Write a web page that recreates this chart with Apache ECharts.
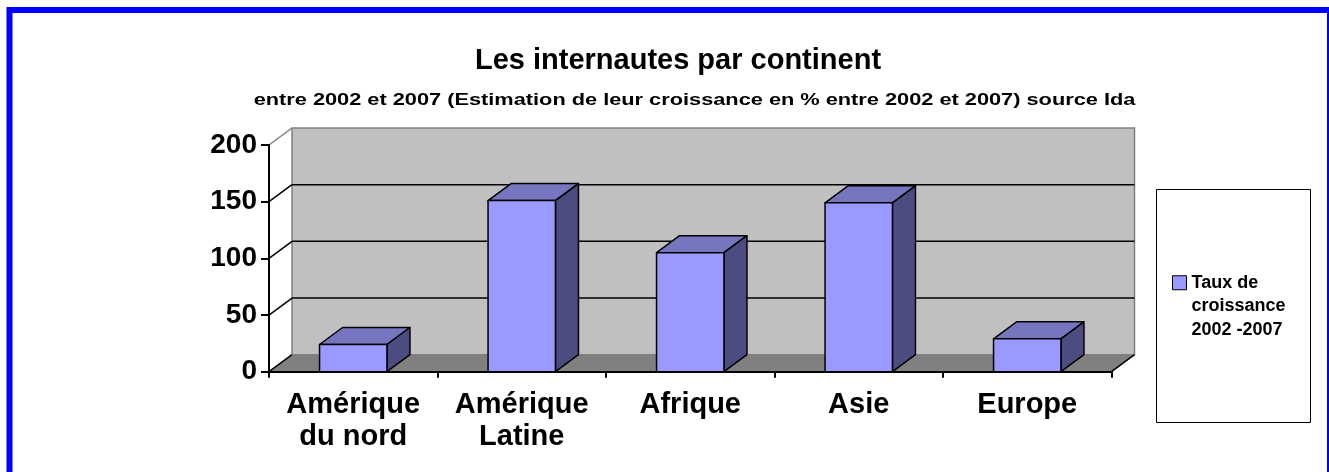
<!DOCTYPE html>
<html>
<head>
<meta charset="utf-8">
<script src="https://cdn.jsdelivr.net/npm/echarts@6/dist/echarts.min.js"></script>
<style>
  html, body { margin: 0; padding: 0; background: #fff; }
  #chart { width: 1329px; height: 472px; }
</style>
</head>
<body>
<div id="chart"></div>
<script>
  // données
  var categories = ['Amérique\ndu nord', 'Amérique\nLatine', 'Afrique', 'Asie', 'Europe'];
  var croissance = [24, 151, 105, 149, 29];
  var yTicks = [0, 50, 100, 150, 200];
  var serieName = 'Taux de croissance 2002 -2007';

  var DX = 23, DY = 17; // profondeur de la perspective
  var font = 'Arial, "Liberation Sans", sans-serif';

  var myEchart = echarts.init(document.getElementById('chart'));

  // murs du fond + sol
  function renderWalls(params, api) {
    var cs = params.coordSys;
    var L = cs.x, R = cs.x + cs.width, T = cs.y, B = cs.y + cs.height;
    var children = [];
    children.push({
      type: 'polygon',
      shape: { points: [[L + DX, T - DY], [R + DX, T - DY], [R + DX, B - DY], [L + DX, B - DY]] },
      style: { fill: '#c0c0c0', stroke: '#808080', lineWidth: 1.5 }
    });
    children.push({
      type: 'polygon',
      shape: { points: [[L, B], [R, B], [R + DX, B - DY], [L + DX, B - DY]] },
      style: { fill: '#808080', stroke: null }
    });
    yTicks.forEach(function (v) {
      var y = api.coord([0, v])[1];
      var isTop = v === yTicks[yTicks.length - 1];
      if (v !== 0 && !isTop) {
        children.push({
          type: 'line',
          shape: { x1: L + DX, y1: y - DY, x2: R + DX, y2: y - DY },
          style: { stroke: '#000', lineWidth: 1.5 }
        });
      }
      children.push({
        type: 'line',
        shape: { x1: L, y1: y, x2: L + DX, y2: y - DY },
        style: { stroke: isTop ? '#808080' : '#000', lineWidth: 1.5 }
      });
    });
    children.push({
      type: 'line',
      shape: { x1: R, y1: B, x2: R + DX, y2: B - DY },
      style: { stroke: '#000', lineWidth: 1.5 }
    });
    return { type: 'group', children: children };
  }

  // colonnes 3D
  function renderBar(params, api) {
    var base = api.coord([api.value(0), 0]);
    var top = api.coord([api.value(0), api.value(1)]);
    var w = api.size([1, 0])[0] * 0.4;
    var l = base[0] - w / 2, r = base[0] + w / 2;
    var yt = top[1], yb = base[1];
    var line = { stroke: '#000', lineWidth: 1.5, lineJoin: 'round' };
    return {
      type: 'group',
      children: [
        {
          type: 'polygon',
          shape: { points: [[l, yt], [r, yt], [r + DX, yt - DY], [l + DX, yt - DY]] },
          style: Object.assign({ fill: '#7676c0' }, line)
        },
        {
          type: 'polygon',
          shape: { points: [[r, yt], [r + DX, yt - DY], [r + DX, yb - DY], [r, yb]] },
          style: Object.assign({ fill: '#4c4c80' }, line)
        },
        {
          type: 'rect',
          shape: { x: l, y: yt, width: w, height: yb - yt },
          style: Object.assign({ fill: '#9999ff' }, line)
        }
      ]
    };
  }

  var option = {
    backgroundColor: '#fff',
    animation: false,
    title: {
      text: 'Les internautes par continent',
      left: 673,
      top: 41,
      textAlign: 'center',
      textStyle: { fontFamily: font, fontWeight: 'bold', fontSize: 29, color: '#000' }
    },
    legend: {
      left: 1172,
      top: 224,
      padding: 0,
      icon: 'rect',
      itemWidth: 14,
      itemHeight: 14,
      itemGap: 0,
      itemStyle: { color: '#9999ff', borderColor: '#000', borderWidth: 1 },
      // deux lignes vides devant : le carré reste aligné sur « Taux de »
      formatter: function () { return '\n\nTaux de\ncroissance\n2002 -2007'; },
      textStyle: {
        fontFamily: font, fontWeight: 'bold', fontSize: 18, color: '#000',
        lineHeight: 23.5
      },
      data: [serieName]
    },
    grid: { left: 269, right: 217.5, top: 145, bottom: 100.3 },
    xAxis: {
      type: 'category',
      data: categories,
      z: 5,
      axisLine: { lineStyle: { color: '#000', width: 2 } },
      axisTick: { show: true, length: 6, lineStyle: { color: '#000', width: 2 } },
      axisLabel: {
        interval: 0, margin: 17,
        fontFamily: font, fontWeight: 'bold', fontSize: 29, lineHeight: 32, color: '#000'
      }
    },
    yAxis: {
      type: 'value',
      min: 0, max: 200, interval: 50,
      z: 5,
      splitLine: { show: false },
      axisLine: { show: true, lineStyle: { color: '#000', width: 2 } },
      axisTick: { show: true, length: 8, lineStyle: { color: '#000', width: 2 } },
      axisLabel: {
        margin: 12,
        fontFamily: font, fontWeight: 'bold', fontSize: 28, color: '#000'
      }
    },
    graphic: [{
      type: 'text',
      x: 694.5,
      y: 101,
      scaleX: 1.36,
      style: {
        text: 'entre 2002 et 2007 (Estimation de leur croissance en % entre 2002 et 2007) source Ida',
        fill: '#000',
        font: 'bold 16px Arial, "Liberation Sans", sans-serif',
        textAlign: 'center',
        textVerticalAlign: 'middle'
      }
    }, {
      type: 'rect',
      shape: { x: 9.5, y: 10, width: 1320.5, height: 500 },
      style: { fill: null, stroke: '#0000ff', lineWidth: 6 },
      z: 100
    }, {
      type: 'rect',
      shape: { x: 1156.5, y: 189.5, width: 154, height: 233 },
      style: { fill: '#fff', stroke: '#000', lineWidth: 1 },
      z: -1
    }],
    series: [{
      type: 'custom',
      name: 'murs',
      silent: true,
      z: 1,
      clip: false,
      renderItem: renderWalls,
      data: [[0, 0]]
    }, {
      type: 'custom',
      name: serieName,
      z: 2,
      clip: false,
      itemStyle: { color: '#9999ff' },
      renderItem: renderBar,
      encode: { x: 0, y: 1 },
      data: croissance.map(function (v, i) { return [i, v]; })
    }]
  };

  myEchart.setOption(option);
  window.addEventListener('resize', function () {
    myEchart.resize();
  });
</script>
</body>
</html>
